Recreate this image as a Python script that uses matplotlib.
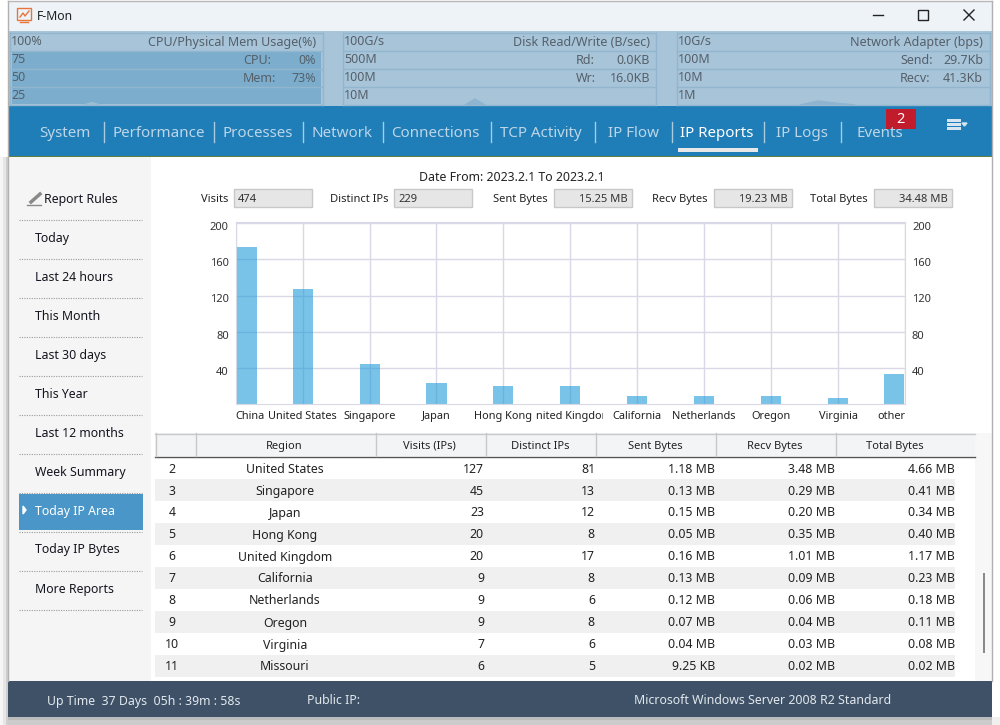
import matplotlib
matplotlib.use("Agg")
import matplotlib.pyplot as plt
import matplotlib.transforms
import numpy

plt.rcParams['font.family'] = ['Noto Sans', 'DejaVu Sans']

regions = ["China", "United States", "Singapore", "Japan", "Hong Kong", "United Kingdom",
           "California", "Netherlands", "Oregon", "Virginia", "other"]
visits = [174, 127, 45, 23, 20, 20, 9, 9, 9, 7, 33]
yTicks = [40, 80, 120, 160, 200]

rowNumbers = [2, 3, 4, 5, 6, 7, 8, 9, 10, 11]
rowRegions = ["United States", "Singapore", "Japan", "Hong Kong", "United Kingdom",
              "California", "Netherlands", "Oregon", "Virginia", "Missouri"]
rowVisits = [127, 45, 23, 20, 20, 9, 9, 9, 7, 6]
rowDistinct = [81, 13, 12, 8, 17, 8, 6, 8, 6, 5]
rowSent = ["1.18 MB", "0.13 MB", "0.15 MB", "0.05 MB", "0.16 MB", "0.13 MB", "0.12 MB", "0.07 MB", "0.04 MB", "9.25 KB"]
rowRecv = ["3.48 MB", "0.29 MB", "0.20 MB", "0.35 MB", "1.01 MB", "0.09 MB", "0.06 MB", "0.04 MB", "0.03 MB", "0.02 MB"]
rowTotal = ["4.66 MB", "0.41 MB", "0.34 MB", "0.40 MB", "1.17 MB", "0.23 MB", "0.18 MB", "0.11 MB", "0.08 MB", "0.02 MB"]

navItems = ["System", "Performance", "Processes", "Network", "Connections", "TCP Activity",
            "IP Flow", "IP Reports", "IP Logs", "Events"]
navLeft = [39, 112.5, 222.5, 311.5, 391, 500, 608, 680.5, 776, 856]
navBars = [104, 214, 303, 383, 491, 595, 672, 764, 841]

menuItems = ["Report Rules", "Today", "Last 24 hours", "This Month", "Last 30 days", "This Year",
             "Last 12 months", "Week Summary", "Today IP Area", "Today IP Bytes", "More Reports"]

f = plt.figure(figsize=(10, 7.25), dpi=100)

#######################################################################################################
# window frame, drawn in screen pixels
chrome = f.add_axes([0, 0, 1, 1])
plt.xlim(0, 1000)
plt.ylim(725, 0)
plt.axis('off')

blocks = [
    (0, 717, 1000, 3, "#bcbcbc"),
    (0, 720, 1000, 5, "#cccccc"),
    (0, 157, 3, 568, "#f6f6f6"),
    (3, 157, 3, 568, "#e6e6e6"),
    (6, 157, 2, 568, "#cfcfcf"),
    (992, 717, 8, 8, "#f0f0f0"),
    (8, 1, 984, 30, "#eef3f8"),
    (8, 31, 984, 75, "#a8c4d8"),
    (12, 52, 309, 52, "#7cadcd"),
    (8, 106, 984, 50, "#1f7db8"),
    (8, 156, 984, 1, "#5f7f3a"),
    (8, 157, 984, 524, "#ffffff"),
    (8, 157, 143, 524, "#f5f5f5"),
    (19, 494, 124, 36, "#4a96c8"),
    (678, 148, 80, 4, "#e8e8e8"),
    (886, 109, 30, 20, "#c01c2c"),
    (947, 119, 14, 2.5, "#d5e6f2"),
    (947, 123, 14, 2.5, "#d5e6f2"),
    (947, 127, 14, 2.5, "#d5e6f2"),
    (975, 433, 17, 248, "#f7f7f7"),
    (155, 433, 820, 23, "#f3f4f6"),
    (983, 573, 2, 80, "#8a8a8a"),
    (8, 681, 984, 36, "#3e5166"),
]
for x, y, w, h, colour in blocks:
    plt.gca().add_patch(plt.Rectangle((x, y), w, h, facecolor=colour, linewidth=0))

plt.plot([8, 8], [1, 681], color="#b0b0b0", lw=1)
plt.plot([992, 992], [1, 681], color="#b0b0b0", lw=1)
plt.plot([8, 992], [0.5, 0.5], color="#b8b8b8", lw=1)

# title bar
plt.gca().add_patch(plt.Rectangle((17, 8), 14, 12, facecolor="none", edgecolor="#e8743c", lw=1))
plt.plot([20, 28], [22, 22], color="#e8743c", lw=1)
plt.plot([20, 23, 25, 29], [17, 13, 16, 11], color="#e8743c", lw=1)
plt.text(37, 16.5, "F-Mon", fontsize=8.8, color="#222222", va='center')
plt.plot([873, 883], [15, 15], color="#222222", lw=1)
plt.gca().add_patch(plt.Rectangle((918, 10), 10, 10, facecolor="none", edgecolor="#222222", lw=1))
plt.plot([964, 974], [10, 20], color="#222222", lw=1)
plt.plot([964, 974], [20, 10], color="#222222", lw=1)

#######################################################################################################
# three monitor panels
panelLeft = [10, 343, 677]
panelRight = [323, 656, 990]
for a, b in zip(panelLeft, panelRight):
    for y in [33, 51, 69, 87, 105]:
        plt.plot([a, b], [y, y], color="#93b6cf", lw=1)
    plt.plot([a, a], [33, 105], color="#93b6cf", lw=1)
    plt.plot([b, b], [33, 105], color="#93b6cf", lw=1)

monitorTexts = [
    (11, 41, "100%", 'left'), (11, 59, "75", 'left'), (11, 77, "50", 'left'), (11, 95, "25", 'left'),
    (316, 42, "CPU/Physical Mem Usage(%)", 'right'),
    (243, 60, "CPU:", 'left'), (316, 60, "0%", 'right'), (243, 78, "Mem:", 'left'), (316, 78, "73%", 'right'),
    (344, 41, "100G/s", 'left'), (344, 59, "500M", 'left'), (344, 77, "100M", 'left'), (344, 95, "10M", 'left'),
    (650, 42, "Disk Read/Write (B/sec)", 'right'),
    (576, 60, "Rd:", 'left'), (650, 60, "0.0KB", 'right'), (576, 78, "Wr:", 'left'), (650, 78, "16.0KB", 'right'),
    (678, 41, "10G/s", 'left'), (678, 59, "100M", 'left'), (678, 77, "10M", 'left'), (678, 95, "1M", 'left'),
    (983, 42, "Network Adapter (bps)", 'right'),
    (900, 60, "Send:", 'left'), (983, 60, "29.7Kb", 'right'), (900, 78, "Recv:", 'left'), (983, 78, "41.3Kb", 'right'),
]
for x, y, label, side in monitorTexts:
    plt.text(x, y - 1.5, label, fontsize=9, color="#55606a", ha=side, va='center_baseline')

plt.fill([84, 92, 100], [105, 102.5, 105], color="#9dbdd4")
plt.fill([465, 475, 485], [105, 99, 105], color="#8fb4d0")
plt.fill([800, 818, 835, 855], [105, 101, 103, 105], color="#8fb4d0")

#######################################################################################################
# navigation bar
for label, x in zip(navItems, navLeft):
    plt.text(x, 131.5, label, fontsize=10.9, color="#ffffff" if label == "IP Reports" else "#bcd6e8", va='center_baseline')
for x in navBars:
    plt.plot([x, x], [122, 142], color="#a8cbe0", lw=1)
plt.text(900, 119.5, "2", fontsize=10.5, color="white", ha='center', va='center')
plt.fill([962, 967, 964.5], [123, 123, 126], color="#d5e6f2")

#######################################################################################################
# side menu
for i, label in enumerate(menuItems):
    y = 199 + 39 * i
    left = 44 if i == 0 else 35
    plt.text(left, y - 1.5, label, fontsize=8.85, color="white" if label == "Today IP Area" else "#15151f", va='center_baseline')
    plt.plot([19, 142], [y + 20.5, y + 20.5], color="#9a9a9a", lw=0.8, ls=(0, (1, 1.2)))
plt.plot([31, 40], [202, 194], color="#8a8a8a", lw=2.5)
plt.plot([27, 41], [205, 205], color="#8a8a8a", lw=1)
plt.fill([23, 26, 23], [506, 510, 514], color="white")

#######################################################################################################
# totals above the chart
plt.text(512, 175.5, "Date From: 2023.2.1 To 2023.2.1", fontsize=8.85, color="#222222", ha='center', va='center_baseline')

boxNames = ["Visits", "Distinct IPs", "Sent Bytes", "Recv Bytes", "Total Bytes"]
boxValues = ["474", "229", "15.25 MB", "19.23 MB", "34.48 MB"]
boxLeft = [234, 394, 554, 714, 874]
for i in range(5):
    a = boxLeft[i]
    plt.gca().add_patch(plt.Rectangle((a, 189), 78, 18, facecolor="#e6e6e6", edgecolor="#c8c8c8", lw=1))
    plt.text(a - 6, 197.5, boxNames[i], fontsize=8, color="#222222", ha='right', va='center_baseline')
    if i < 2:
        plt.text(a + 4, 197.5, boxValues[i], fontsize=8, color="#333333", va='center_baseline')
    else:
        plt.text(a + 74, 197.5, boxValues[i], fontsize=8, color="#333333", ha='right', va='center_baseline')

#######################################################################################################
# table below the chart
for i in range(10):
    top = 457 + 22 * i
    if i % 2 == 1:
        plt.gca().add_patch(plt.Rectangle((155, top), 800, 22, facecolor="#f0f0f0", linewidth=0))
    y = top + 10.5
    plt.text(172, y, str(rowNumbers[i]), fontsize=8.85, color="#222222", ha='center', va='center_baseline')
    plt.text(285, y, rowRegions[i], fontsize=8.85, color="#222222", ha='center', va='center_baseline')
    plt.text(484, y, str(rowVisits[i]), fontsize=8.85, color="#222222", ha='right', va='center_baseline')
    plt.text(595, y, str(rowDistinct[i]), fontsize=8.85, color="#222222", ha='right', va='center_baseline')
    plt.text(715, y, rowSent[i], fontsize=8.85, color="#222222", ha='right', va='center_baseline')
    plt.text(835, y, rowRecv[i], fontsize=8.85, color="#222222", ha='right', va='center_baseline')
    plt.text(955, y, rowTotal[i], fontsize=8.85, color="#222222", ha='right', va='center_baseline')

plt.plot([155, 975], [433.5, 433.5], color="#c8c8c8", lw=1)
plt.plot([155, 975], [456.5, 456.5], color="#555555", lw=1)
for x in [155.5, 195.5, 375.5, 485.5, 595.5, 715.5, 835.5]:
    plt.plot([x, x], [433, 456], color="#c8c8c8", lw=1)

headers = ["Region", "Visits (IPs)", "Distinct IPs", "Sent Bytes", "Recv Bytes", "Total Bytes"]
headerMiddle = [284.5, 429, 540, 655, 775, 895]
for label, x in zip(headers, headerMiddle):
    plt.text(x, 444.5, label, fontsize=8, color="#222222", ha='center', va='center_baseline')

#######################################################################################################
# footer
plt.text(47, 699.5, "Up Time  37 Days  05h : 39m : 58s", fontsize=8.85, color="#e2e8ee", va='center_baseline')
plt.text(307, 699.5, "Public IP:", fontsize=8.85, color="#e2e8ee", va='center_baseline')
plt.text(634, 699.5, "Microsoft Windows Server 2008 R2 Standard", fontsize=8.85, color="#e2e8ee", va='center_baseline')

#######################################################################################################
# bar chart
panel = f.add_axes([0.2357, 1 - 404.3 / 725, 0.6693, 182.6 / 725])

barWidth = 0.3
places = numpy.clip(numpy.arange(len(regions)), barWidth / 2 + 0.02, len(regions) - 1 - barWidth / 2 - 0.02)
plt.bar(places, visits, width=barWidth, color="#209BD9", alpha=0.6, linewidth=0)
plt.xlim(0, 10)
plt.ylim(0, 201.5)
plt.grid(True, color="#d8d8e6", lw=1)
panel.set_axisbelow(True)
for side in panel.spines.values():
    side.set_color("#d8d8e6")
plt.xticks(range(len(regions)), regions, fontsize=7.9, color="#222222")
plt.yticks(yTicks)
plt.tick_params(axis='both', length=0)
plt.tick_params(axis='x', pad=5)
plt.tick_params(axis='y', pad=5, labelright=True, labelsize=8, labelcolor="#333333")

labels = panel.get_xticklabels()
labels[0].set_ha('left')
labels[-1].set_ha('right')
labels[5].set_clip_on(True)
labels[5].set_clip_path(plt.Rectangle((535, 0), 68, 725, transform=chrome.transData))

lower = matplotlib.transforms.ScaledTranslation(0, -2 / 72, f.dpi_scale_trans)  # numbers sit under the grid
for tick in panel.yaxis.get_major_ticks():
    tick.label1.set_transform(tick.label1.get_transform() + lower)
    tick.label2.set_transform(tick.label2.get_transform() + lower)

plt.savefig("out.png", dpi=100)
